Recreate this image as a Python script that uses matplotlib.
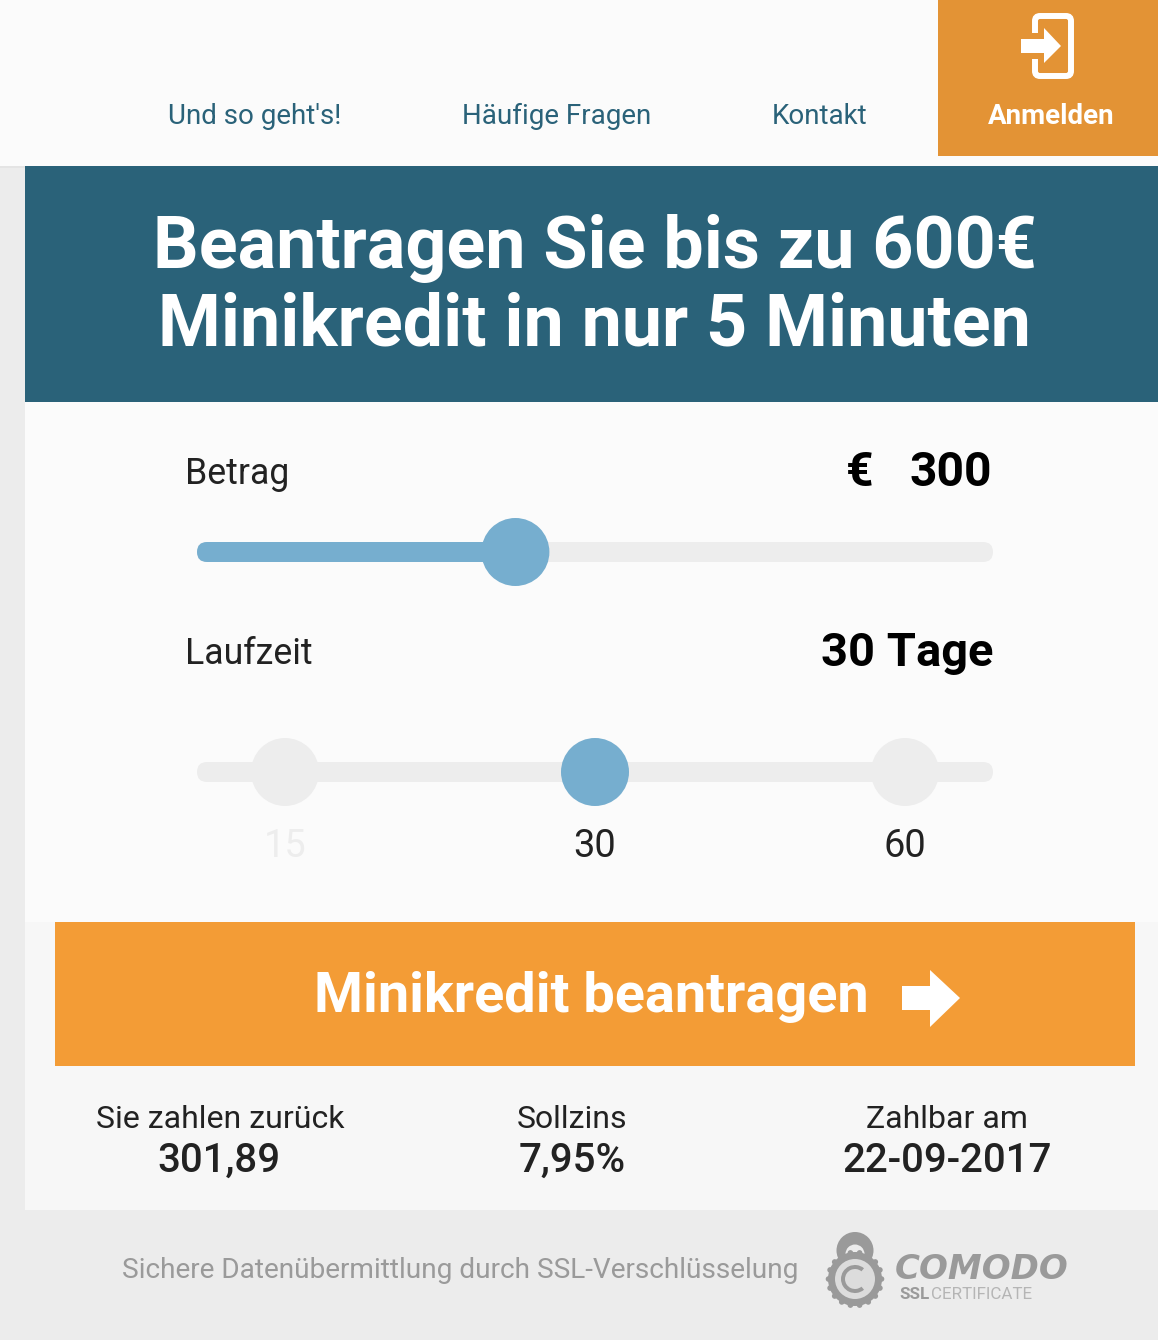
import matplotlib
matplotlib.use('Agg')
import matplotlib.pyplot as plt
import numpy as np
from matplotlib.patches import Rectangle, Circle, FancyBboxPatch, Polygon, Wedge

nav_labels = ["Und so geht's!", 'Häufige Fragen', 'Kontakt']
login_label = 'Anmelden'
title_lines = ['Beantragen Sie bis zu 600€', 'Minikredit in nur 5 Minuten']
amount = 300
amount_min = 100
amount_max = 600
day_options = [15, 30, 60]
day_active = 30
summary_labels = ['Sie zahlen zurück', 'Sollzins', 'Zahlbar am']
summary_values = ['301,89', '7,95%', '22-09-2017']
button_label = 'Minikredit beantragen'
ssl_label = 'Sichere Datenübermittlung durch SSL-Verschlüsselung'

GUTTER = '#ececec'
PANEL = '#fbfbfb'
LOWER = '#f7f7f7'
TEAL = '#2a6279'
ORANGE_DARK = '#e39335'
ORANGE = '#f39c36'
THUMB = '#76aecf'
TRACK = '#ededed'
DARK = '#222222'
LOGO = '#9a9a9a'

plt.rcParams['font.family'] = ['Roboto', 'DejaVu Sans']


def px(size):
    return size * 0.72


def rect(ax, x0, y0, x1, y1, color, zorder=1):
    ax.add_patch(Rectangle((x0, y0), x1 - x0, y1 - y0, fc=color, ec='none', zorder=zorder))


def bar(ax, x0, x1, yc, color, zorder=2):
    ax.add_patch(FancyBboxPatch((x0 + 10, yc - 0), x1 - x0 - 20, 0,
                                boxstyle='round,pad=10,rounding_size=10',
                                fc=color, ec='none', zorder=zorder))


def label(ax, x, y, s, size, color=DARK, weight='normal', ha='center', **kw):
    ax.text(x, y, s, fontsize=px(size), color=color, fontweight=weight,
            ha=ha, va='baseline', **kw)


def draw_login_icon(ax):
    ax.add_patch(FancyBboxPatch((1035, 16), 36, 60, boxstyle='round,pad=0,rounding_size=5',
                                fc='none', ec='white', lw=4.3, zorder=3))
    rect(ax, 1028, 33, 1040, 59, ORANGE_DARK, zorder=4)
    ax.add_patch(Polygon([(1021, 39), (1044, 39), (1044, 28), (1061, 46),
                          (1044, 63), (1044, 53), (1021, 53)],
                         fc='white', ec='none', zorder=5))


def draw_button_arrow(ax):
    ax.add_patch(Polygon([(902, 986), (930, 986), (930, 970), (960, 998),
                          (930, 1027), (930, 1010), (902, 1010)],
                         fc='white', ec='none', zorder=3))


def draw_comodo_logo(ax):
    # padlock shackle
    ax.add_patch(Circle((855, 1250.5), 18.5, fc=LOGO, ec='none', zorder=2))
    ax.add_patch(Wedge((855, 1254), 9.5, 180, 360, fc=GUTTER, ec='none', zorder=3))
    # gear body
    ax.add_patch(Circle((855, 1279), 27, fc=LOGO, ec='none', zorder=3))
    for a in np.linspace(0, 2 * np.pi, 18, endpoint=False):
        ax.add_patch(Circle((855 + 26.5 * np.cos(a), 1279 + 26.5 * np.sin(a)), 2.8,
                            fc=LOGO, ec='none', zorder=3))
    ax.add_patch(Circle((855, 1279), 20, fc='#dcdcdc', ec='none', zorder=4))
    ax.add_patch(Wedge((855, 1279), 14, 50, 310, width=4, fc=LOGO, ec='none', zorder=5))
    label(ax, 982, 1279, 'COMODO', 34, color=LOGO, weight='bold', style='italic',
          family=['DejaVu Sans'])
    label(ax, 899, 1299, 'SSL', 17, color=LOGO, weight='bold', ha='left')
    label(ax, 931, 1299, 'CERTIFICATE', 17, color='#b5b5b5', ha='left')


def main():
    fig = plt.figure(figsize=(11.58, 13.4), dpi=100, facecolor=GUTTER)
    ax = fig.add_axes([0, 0, 1, 1])
    ax.set_xlim(0, 1158)
    ax.set_ylim(1340, 0)
    ax.axis('off')

    # page blocks
    rect(ax, 0, 0, 1158, 166, PANEL)
    rect(ax, 0, 166, 25, 168, '#e4e4e4')
    rect(ax, 938, 0, 1158, 156, ORANGE_DARK, zorder=2)
    rect(ax, 25, 166, 1158, 402, TEAL)
    rect(ax, 25, 402, 1158, 922, PANEL)
    rect(ax, 25, 922, 1158, 1210, LOWER)
    rect(ax, 55, 922, 1135, 1066, ORANGE, zorder=2)

    # nav
    for x, s in zip([255, 556.5, 819.5], nav_labels):
        label(ax, x, 124, s, 27.8, color=TEAL)
    label(ax, 1051, 124, login_label, 27.8, color='white', weight='bold', zorder=3)
    draw_login_icon(ax)

    # title
    for y, s in zip([268, 345], title_lines):
        label(ax, 594.5, y, s, 71.8, color='white', weight='bold')

    # amount slider
    label(ax, 185.5, 484, 'Betrag', 35.6, ha='left')
    label(ax, 860, 486, '€', 48, color='black', weight='bold')
    label(ax, 992, 486, str(amount), 48, color='black', weight='bold', ha='right')
    track_x0, track_x1 = 197, 993
    frac = (amount - amount_min) / (amount_max - amount_min)
    thumb_x = track_x0 + frac * (track_x1 - track_x0)
    bar(ax, track_x0, track_x1, 552, TRACK)
    bar(ax, track_x0, thumb_x, 552, THUMB, zorder=3)
    ax.add_patch(Circle((thumb_x, 552), 34, fc=THUMB, ec='none', zorder=4))

    # term slider
    label(ax, 185.5, 664, 'Laufzeit', 35.6, ha='left')
    label(ax, 993, 666, f'{day_active} Tage', 47, color='black', weight='bold', ha='right')
    bar(ax, track_x0, track_x1, 772, TRACK)
    for i, day in enumerate(day_options):
        x = 285 + 310 * i
        active = day == day_active
        ax.add_patch(Circle((x, 772), 34, fc=THUMB if active else TRACK, ec='none', zorder=4))
        color = '#ededed' if i == 0 else DARK
        label(ax, x, 857, str(day), 38, color=color)

    # button
    label(ax, 591.5, 1012, button_label, 55.9, color='white', weight='bold', zorder=3)
    draw_button_arrow(ax)

    # summary
    for x, s, v in zip([220, 572, 947], summary_labels, summary_values):
        label(ax, x, 1128, s, 32)
        label(ax, x - (1 if x == 220 else 0), 1172, v, 40.2, weight='medium')

    # footer
    label(ax, 460, 1278, ssl_label, 28, color='#9a9a9a')
    draw_comodo_logo(ax)

    fig.savefig('out.png', dpi=100, facecolor=GUTTER)


if __name__ == '__main__':
    main()
